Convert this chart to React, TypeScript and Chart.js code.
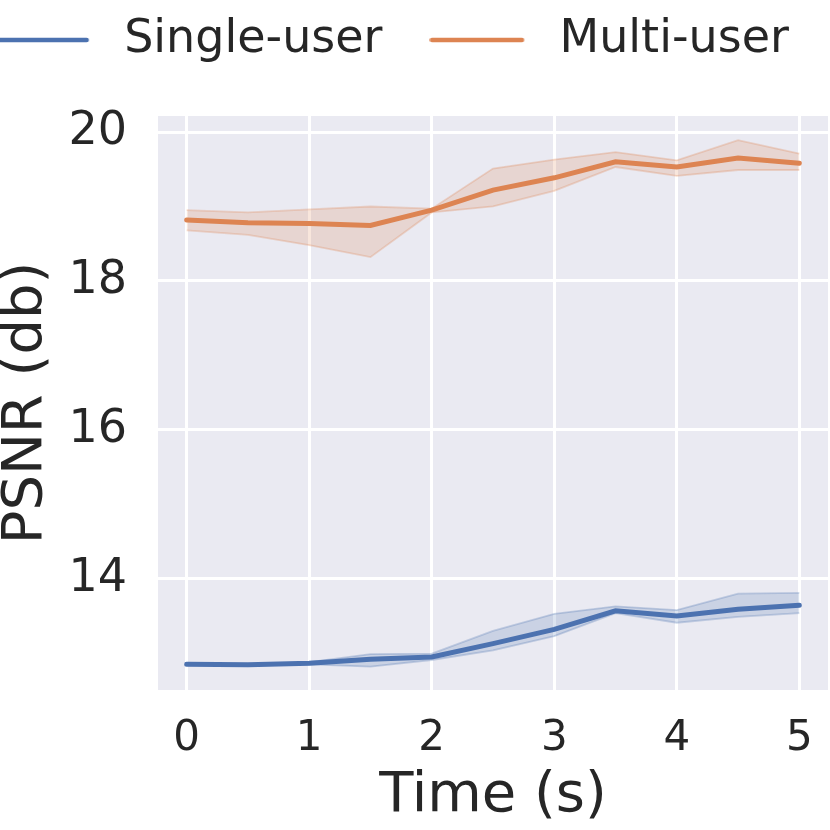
import React, { useEffect, useRef } from "react";
import { Chart, registerables } from "chart.js";

Chart.register(...registerables);

const time = [0, 0.5, 1, 1.5, 2, 2.5, 3, 3.5, 4, 4.5, 5];
const singleMean = [12.853, 12.845, 12.866, 12.92, 12.95, 13.13, 13.32, 13.57, 13.5, 13.59, 13.645];
const singleHigh = [12.86, 12.855, 12.88, 12.99, 12.995, 13.3, 13.53, 13.63, 13.58, 13.8, 13.81];
const singleLow = [12.845, 12.835, 12.85, 12.82, 12.91, 13.04, 13.23, 13.54, 13.41, 13.49, 13.54];
const multiMean = [18.82, 18.78, 18.77, 18.745, 18.95, 19.22, 19.385, 19.6, 19.53, 19.65, 19.58];
const multiHigh = [18.95, 18.92, 18.96, 19.0, 18.97, 19.51, 19.63, 19.73, 19.62, 19.89, 19.71];
const multiLow = [18.68, 18.62, 18.48, 18.32, 18.92, 19.0, 19.21, 19.53, 19.41, 19.49, 19.49];
const xTicks = [0, 1, 2, 3, 4, 5];
const yTicks = [14, 16, 18, 20];
const seriesNames = ["Single-user", "Multi-user"];

const BLUE = "rgb(76,114,176)";
const ORANGE = "rgb(221,132,82)";
const TEXT = "#262626";
const FONT = "'DejaVu Sans', sans-serif";

const pts = (ys: number[]) => time.map((t, i) => ({ x: t, y: ys[i] }));
const rgba = (rgb: string, a: number) => rgb.replace("rgb", "rgba").replace(")", "," + a + ")");

const LEGEND_BOX = 107;
const LEGEND_LINE = 95;

function legendLine(color: string) {
  const c = document.createElement("canvas");
  c.width = LEGEND_BOX;
  c.height = 10;
  const g = c.getContext("2d")!;
  g.strokeStyle = color;
  g.lineWidth = 4.5;
  g.lineCap = "round";
  g.beginPath();
  g.moveTo(2.5, 5);
  g.lineTo(LEGEND_LINE - 2.5, 5);
  g.stroke();
  return c;
}

const bgPlugin = {
  id: "bgPlugin",
  beforeDraw(chart: any) {
    const { ctx, chartArea } = chart;
    ctx.save();
    ctx.fillStyle = "#EAEAF2";
    ctx.fillRect(chartArea.left, chartArea.top, chartArea.right - chartArea.left, chartArea.bottom - chartArea.top);
    ctx.restore();
  },
};

const legendSpace = {
  id: "legendSpace",
  beforeLayout(chart: any) {
    const lg = chart.legend;
    if (lg && !lg._patched) {
      const f = lg.fit;
      lg.fit = function () {
        const mw = this.maxWidth;
        this.maxWidth = mw + 200;
        f.call(this);
        this.maxWidth = mw;
        this.width = mw;
        this.height += 43;
      };
      lg._patched = true;
    }
  },
  afterLayout(chart: any) {
    const lg = chart.legend;
    if (lg) {
      lg.left -= 40;
      lg.right += 40;
      lg.width += 80;
    }
  },
};

export default function App() {
  const ref = useRef<HTMLCanvasElement>(null);
  useEffect(() => {
    if (!ref.current) return;
    const band = (hi: number[], lo: number[], rgb: string) => [
      {
        label: "hi",
        data: pts(hi),
        borderColor: rgba(rgb, 0.28),
        borderWidth: 1.8,
        pointRadius: 0,
        fill: false,
        order: 5,
      },
      {
        label: "lo",
        data: pts(lo),
        borderColor: rgba(rgb, 0.28),
        backgroundColor: rgba(rgb, 0.2),
        borderWidth: 1.8,
        pointRadius: 0,
        fill: "-1",
        order: 5,
      },
    ];
    const chart = new Chart(ref.current, {
      type: "line",
      data: {
        datasets: [
          {
            label: seriesNames[0],
            data: pts(singleMean),
            borderColor: BLUE,
            backgroundColor: BLUE,
            borderWidth: 5,
            pointRadius: 0,
            pointStyle: legendLine(BLUE),
            fill: false,
            borderCapStyle: "round",
            order: 1,
          },
          {
            label: seriesNames[1],
            data: pts(multiMean),
            borderColor: ORANGE,
            backgroundColor: ORANGE,
            borderWidth: 5,
            pointRadius: 0,
            pointStyle: legendLine(ORANGE),
            fill: false,
            borderCapStyle: "round",
            order: 1,
          },
          ...band(singleHigh, singleLow, BLUE),
          ...band(multiHigh, multiLow, ORANGE),
        ] as any,
      },
      options: {
        responsive: false,
        animation: false,
        layout: { padding: { top: -30, right: 2, left: 0, bottom: 0 } },
        plugins: {
          tooltip: { enabled: false },
          legend: {
            position: "top",
            labels: {
              filter: (item: any) => item.datasetIndex < 2,
              usePointStyle: true,
              pointStyleWidth: LEGEND_BOX,
              padding: 47,
              color: TEXT,
              font: { family: FONT, size: 46 },
            },
          },
        },
        scales: {
          x: {
            type: "linear",
            min: -0.234,
            max: 5.234,
            afterBuildTicks: (s: any) => {
              s.ticks = xTicks.map((v) => ({ value: v }));
            },
            afterFit: (s: any) => {
              s.height = 140;
              s.paddingLeft = 0;
              s.paddingRight = 0;
            },
            border: { display: false },
            grid: { color: "#FFFFFF", lineWidth: 3, drawTicks: false },
            ticks: { color: TEXT, font: { family: FONT, size: 42 }, padding: 24, maxRotation: 0 },
            title: {
              display: true,
              text: "Time (s)",
              color: TEXT,
              font: { family: FONT, size: 56 },
              padding: { top: 0, bottom: 0 },
            },
          },
          y: {
            type: "linear",
            min: 12.507,
            max: 20.215,
            afterBuildTicks: (s: any) => {
              s.ticks = yTicks.map((v) => ({ value: v }));
            },
            afterFit: (s: any) => {
              s.width = 203;
              s.paddingTop = 0;
              s.paddingBottom = 0;
            },
            border: { display: false },
            grid: { color: "#FFFFFF", lineWidth: 3, drawTicks: false },
            ticks: { color: TEXT, font: { family: FONT, size: 46 }, padding: 31 },
            title: {
              display: true,
              text: "PSNR (db)",
              color: TEXT,
              font: { family: FONT, size: 56 },
              padding: { top: 38, bottom: 0 },
            },
          },
        },
      },
      plugins: [bgPlugin, legendSpace],
    });
    return () => chart.destroy();
  }, []);
  return (
    <div style={{ position: "absolute", left: -45, top: 0, width: 875, height: 830 }}>
      <canvas ref={ref} width={875} height={830} />
    </div>
  );
}
